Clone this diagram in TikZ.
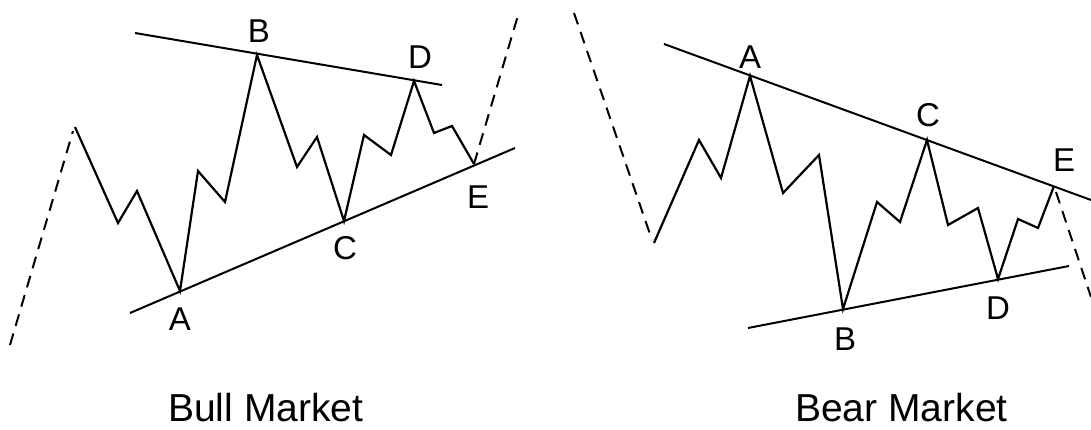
\documentclass[tikz,border=0pt]{standalone}
\usepackage{fontspec}
\setmainfont{Liberation Sans}
\usetikzlibrary{positioning}

\tikzset{
  wave/.style={line width=2.2pt, line join=miter},
  trendline/.style={line width=2pt},
  dashline/.style={line width=2pt, dash pattern=on 12pt off 8pt},
  lbl/.style={font=\fontsize{33}{33}\selectfont, inner sep=0pt},
  title/.style={font=\fontsize{39}{39}\selectfont, inner sep=0pt, anchor=base west}
}

\begin{document}
\begin{tikzpicture}[x=1pt, y=-1pt]
  \useasboundingbox (0,0) rectangle (1091,430);

  % bull market
  \coordinate (uS) at (10,345);
  \coordinate (u0) at (75,127);
  \coordinate (uA) at (180,291);
  \coordinate (uB) at (257,55);
  \coordinate (uC) at (344,221);
  \coordinate (uD) at (414,81);
  \coordinate (uE) at (474,164);
  \coordinate (uT) at (519,12);
  \coordinate (uH1) at (135,33);
  \coordinate (uH2) at (442,85);
  \coordinate (uL1) at (130,313);
  \coordinate (uL2) at (515,148);

  \draw[trendline] (uH1) -- (uH2);
  \draw[trendline] (uL1) -- (uL2);
  \draw[dashline] (uS) -- (73,131);
  \draw[wave] (u0) -- (118,223) -- (137,191) -- (uA) -- (198,171) -- (225,202)
    -- (uB) -- (297,167) -- (317,137) -- (uC) -- (364,135) -- (391,155)
    -- (uD) -- (434,133) -- (452,126) -- (uE);
  \draw[dashline] (uE) -- (uT);

  \node[lbl] (uLA) at (180,319) {A};
  \node[lbl] (uLB) at (259,31) {B};
  \node[lbl] (uLC) at (345,248) {C};
  \node[lbl] (uLD) at (420,57) {D};
  \node[lbl] (uLE) at (478,197) {E};
  \node[title] (bull) at (168,421) {Bull Market};

  % bear market
  \coordinate (dS) at (574,13);
  \coordinate (d0) at (654,243);
  \coordinate (dA) at (750,76);
  \coordinate (dB) at (843,309);
  \coordinate (dC) at (927,140);
  \coordinate (dD) at (998,279);
  \coordinate (dE) at (1054,186);
  \coordinate (dT) at (1091,297);
  \coordinate (dH1) at (664,44);
  \coordinate (dH2) at (1091,200);
  \coordinate (dL1) at (748,328);
  \coordinate (dL2) at (1069,266);

  \draw[trendline] (dH1) -- (dH2);
  \draw[trendline] (dL1) -- (dL2);
  \draw[dashline] (dS) -- (652,240);
  \draw[wave] (d0) -- (699,140) -- (721,178) -- (dA) -- (783,193) -- (819,155)
    -- (dB) -- (877,202) -- (900,222) -- (dC) -- (948,225) -- (978,208)
    -- (dD) -- (1018,219) -- (1038,228) -- (dE);
  \draw[dashline] (1056,192) -- (dT);

  \node[lbl] (dLA) at (750,57) {A};
  \node[lbl] (dLB) at (845,339) {B};
  \node[lbl] (dLC) at (928,115) {C};
  \node[lbl] (dLD) at (998,308) {D};
  \node[lbl] (dLE) at (1064,160) {E};
  \node[title] (bear) at (795,421) {Bear Market};
\end{tikzpicture}
\end{document}
